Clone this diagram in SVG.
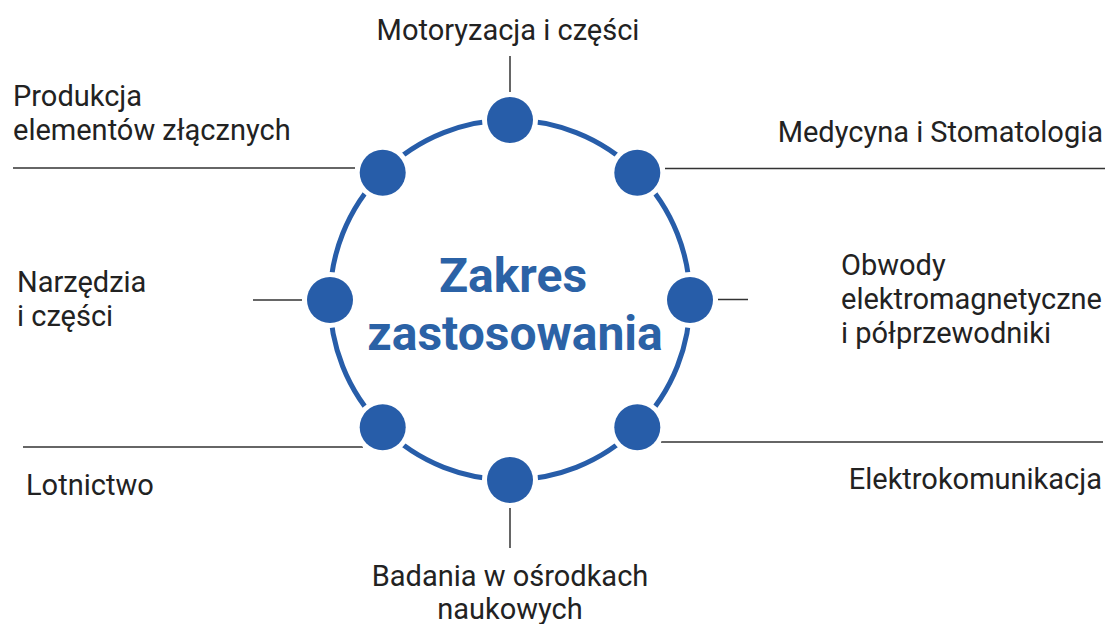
<svg xmlns="http://www.w3.org/2000/svg" width="1107" height="624" viewBox="0 0 1107 624">
<style>
.lbl{font-family:Roboto,"Liberation Sans",sans-serif;font-size:29px;fill:#222}
.ttl{font-family:Roboto,"Liberation Sans",sans-serif;font-size:48px;font-weight:bold;fill:#2B62A6}
.ln{stroke:#333;stroke-width:1.5;fill:none}
.vl{stroke:#666;stroke-width:2;fill:none}
.dot{fill:#275DA9}
.halo{fill:#fff}
</style>
<rect width="1107" height="624" fill="#fff"/>
<g id="connectors">
<line class="vl" x1="510" y1="56" x2="510" y2="92"/>
<line class="vl" x1="510" y1="508" x2="510" y2="548"/>
<line class="ln" x1="13" y1="168" x2="355" y2="168"/>
<line class="ln" x1="665" y1="168.5" x2="1105" y2="168.5"/>
<line class="ln" x1="253" y1="300" x2="302" y2="300"/>
<line class="ln" x1="718" y1="299.5" x2="748" y2="299.5"/>
<line class="ln" x1="23" y1="447" x2="363" y2="447"/>
<line class="ln" x1="661" y1="442" x2="1103" y2="442"/>
</g>
<g id="ring">
<circle cx="510" cy="300" r="180" fill="none" stroke="#275DA9" stroke-width="5"/>
</g>
<g id="n-top"><circle class="halo" cx="510" cy="120" r="28"/><circle class="dot" cx="510" cy="120" r="23"/></g>
<g id="n-tr"><circle class="halo" cx="637.3" cy="172.7" r="28"/><circle class="dot" cx="637.3" cy="172.7" r="23"/></g>
<g id="n-r"><circle class="halo" cx="690" cy="300" r="28"/><circle class="dot" cx="690" cy="300" r="23"/></g>
<g id="n-br"><circle class="halo" cx="637.3" cy="427.3" r="28"/><circle class="dot" cx="637.3" cy="427.3" r="23"/></g>
<g id="n-b"><circle class="halo" cx="510" cy="480" r="28"/><circle class="dot" cx="510" cy="480" r="23"/></g>
<g id="n-bl"><circle class="halo" cx="382.7" cy="427.3" r="28"/><circle class="dot" cx="382.7" cy="427.3" r="23"/></g>
<g id="n-l"><circle class="halo" cx="330" cy="300" r="28"/><circle class="dot" cx="330" cy="300" r="23"/></g>
<g id="n-tl"><circle class="halo" cx="382.7" cy="172.7" r="28"/><circle class="dot" cx="382.7" cy="172.7" r="23"/></g>
<g id="center">
<text class="ttl" x="513" y="292" text-anchor="middle">Zakres</text>
<text class="ttl" x="515" y="350" text-anchor="middle">zastosowania</text>
</g>
<g id="labels">
<text class="lbl" x="508" y="40" text-anchor="middle">Motoryzacja i części</text>
<text class="lbl" x="13" y="106">Produkcja</text>
<text class="lbl" x="13" y="140">elementów złącznych</text>
<text class="lbl" x="1103" y="142" text-anchor="end">Medycyna i Stomatologia</text>
<text class="lbl" x="17" y="292">Narzędzia</text>
<text class="lbl" x="17" y="326">i części</text>
<text class="lbl" x="841" y="275">Obwody</text>
<text class="lbl" x="841" y="309">elektromagnetyczne</text>
<text class="lbl" x="841" y="343">i półprzewodniki</text>
<text class="lbl" x="26" y="495">Lotnictwo</text>
<text class="lbl" x="1102" y="489" text-anchor="end">Elektrokomunikacja</text>
<text class="lbl" x="510" y="586" text-anchor="middle">Badania w ośrodkach</text>
<text class="lbl" x="510" y="619" text-anchor="middle">naukowych</text>
</g>
</svg>
